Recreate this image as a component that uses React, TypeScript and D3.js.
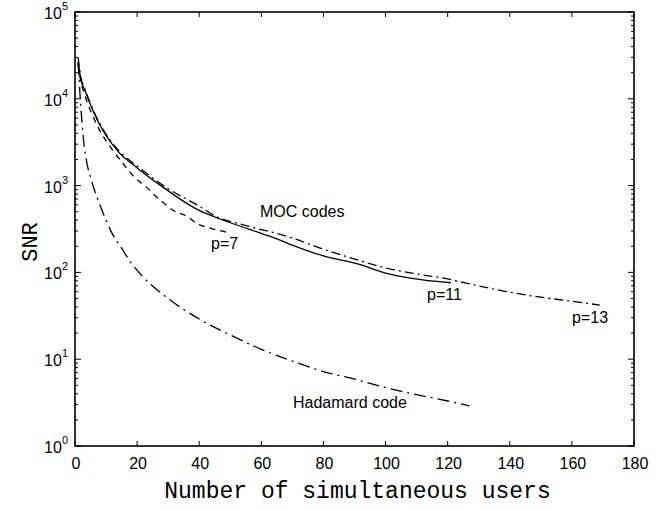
import React, { useEffect, useRef } from "react";
import * as d3 from "d3";

// values: [users, SNR]
const mocP7: [number, number][] = [
  [1, 25000], [2, 15000], [3, 11500], [4, 9000], [6, 6000], [8, 4300],
  [12, 2600], [16, 1700], [19, 1260], [23, 960], [26, 755], [29, 610],
  [32, 510], [36, 445], [39, 370], [44, 320], [49, 290],
];

const mocP11: [number, number][] = [
  [1, 27000], [2, 16000], [3, 13000], [4, 10500], [6, 7000], [8, 5000],
  [10, 3800], [14, 2450], [20, 1600], [28, 980], [39, 540], [45, 435],
  [56, 315], [65, 243], [71, 200], [80, 155], [91, 125], [101, 96],
  [112, 82], [121, 76],
];

const mocP13: [number, number][] = [
  [1, 30000], [2, 17000], [3, 13500], [4, 10800], [6, 7200], [8, 5200],
  [10, 3900], [14, 2550], [20, 1680], [30, 920], [40, 580], [45, 450],
  [56, 340], [69, 255], [80, 185], [88, 150], [99, 115], [110, 96],
  [120, 84], [124, 78], [138, 61], [148, 53], [159, 47], [169, 42],
];

const hadamard: [number, number][] = [
  [1, 26000], [2, 7000], [3, 2800], [4, 1700], [5, 1250], [6, 950],
  [8, 600], [10, 400], [12, 280], [15, 190], [18, 130], [22, 88],
  [30, 50], [40, 29], [50, 19], [60, 13], [70, 9.5], [80, 7.2],
  [90, 5.9], [100, 4.7], [110, 3.9], [120, 3.3], [127, 2.9],
];

const xTicks = [0, 20, 40, 60, 80, 100, 120, 140, 160, 180];
const yDecades = [0, 1, 2, 3, 4, 5];

const labels = [
  { text: "MOC codes", u: 60, v: 300, dy: -40 },
  { text: "p=7", u: 44, v: 290, dy: 0 },
];

const width = 666;
const height = 510;
const margin = { top: 12, right: 32, bottom: 64, left: 75 };

const App = () => {
  const svgRef = useRef<SVGSVGElement>(null);

  useEffect(() => {
    const svg = d3.select(svgRef.current);
    svg.selectAll("*").remove();

    const x = d3.scaleLinear().domain([0, 180]).range([margin.left, width - margin.right]);
    const y = d3.scaleLog().domain([1, 1e5]).range([height - margin.bottom, margin.top]);

    const x0 = x.range()[0], x1 = x.range()[1];
    const y0 = y.range()[0], y1 = y.range()[1];
    const sans = "Liberation Sans, Arial, sans-serif";
    const mono = "Courier New, Courier, Liberation Mono, monospace";

    // ticks, MATLAB style, pointing inward on all sides
    const g = svg.append("g").attr("stroke", "#000").attr("stroke-width", 1);
    xTicks.forEach((t) => {
      g.append("line").attr("x1", x(t)).attr("x2", x(t)).attr("y1", y0).attr("y2", y0 - 5);
      g.append("line").attr("x1", x(t)).attr("x2", x(t)).attr("y1", y1).attr("y2", y1 + 5);
    });
    yDecades.forEach((d) => {
      const base = Math.pow(10, d);
      g.append("line").attr("x1", x0).attr("x2", x0 + 6).attr("y1", y(base)).attr("y2", y(base));
      g.append("line").attr("x1", x1).attr("x2", x1 - 6).attr("y1", y(base)).attr("y2", y(base));
      if (d < 5) {
        for (let m = 2; m <= 9; m++) {
          const v = base * m;
          g.append("line").attr("x1", x0).attr("x2", x0 + 3).attr("y1", y(v)).attr("y2", y(v));
          g.append("line").attr("x1", x1).attr("x2", x1 - 3).attr("y1", y(v)).attr("y2", y(v));
        }
      }
    });

    svg
      .append("rect")
      .attr("x", x0)
      .attr("y", y1)
      .attr("width", x1 - x0)
      .attr("height", y0 - y1)
      .attr("fill", "none")
      .attr("stroke", "#000")
      .attr("stroke-width", 1.6);

    // tick labels
    svg
      .selectAll(".xl")
      .data(xTicks)
      .enter()
      .append("text")
      .attr("x", (d) => x(d) + 1)
      .attr("y", y0 + 23)
      .attr("text-anchor", "middle")
      .attr("font-family", sans)
      .attr("font-size", 16)
      .text((d) => d);

    const yl = svg
      .selectAll(".yl")
      .data(yDecades)
      .enter()
      .append("text")
      .attr("x", x0 - 7)
      .attr("y", (d) => y(Math.pow(10, d)) + 7)
      .attr("text-anchor", "end")
      .attr("font-family", sans)
      .attr("font-size", 16);
    yl.append("tspan").text("10");
    yl.append("tspan").attr("dy", -9).attr("font-size", 11).text((d) => d);

    // curves
    const line = d3
      .line<[number, number]>()
      .x((d) => x(d[0]))
      .y((d) => y(d[1]))
      .curve(d3.curveMonotoneX);

    const series = [
      { data: mocP7, dash: "6,5" },
      { data: mocP11, dash: null },
      { data: mocP13, dash: "9,4,2,4" },
      { data: hadamard, dash: "12,5,2,5" },
    ];
    series.forEach((s) => {
      const p = svg
        .append("path")
        .attr("d", line(s.data))
        .attr("fill", "none")
        .attr("stroke", "#000")
        .attr("stroke-width", 1.3);
      if (s.dash) p.attr("stroke-dasharray", s.dash);
    });

    // annotations
    const note = (t: string, px: number, py: number) =>
      svg
        .append("text")
        .attr("x", px)
        .attr("y", py)
        .attr("font-family", sans)
        .attr("font-size", 16)
        .text(t);
    note("MOC codes", 260, 217);
    note("p=7", 211, 249);
    note("p=11", 427, 300);
    note("p=13", 572, 323);
    note("Hadamard code", 293, 408);

    // axis titles
    svg
      .append("text")
      .attr("x", (x0 + x1) / 2 + 3)
      .attr("y", 498)
      .attr("text-anchor", "middle")
      .attr("font-family", mono)
      .attr("font-size", 23)
      .text("Number of simultaneous users");

    svg
      .append("text")
      .attr("transform", `translate(37,${(y0 + y1) / 2 + 13}) rotate(-90)`)
      .attr("text-anchor", "middle")
      .attr("font-family", mono)
      .attr("font-size", 22)
      .text("SNR");
  }, []);

  return (
    <svg
      ref={svgRef}
      width={width}
      height={height}
      style={{ position: "absolute", left: 0, top: 0, background: "#fff" }}
    ></svg>
  );
};

export default App;
